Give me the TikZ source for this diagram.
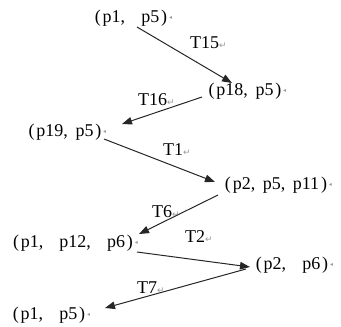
\documentclass[tikz,border=0pt]{standalone}
\usepackage{fontspec}
\setmainfont{Liberation Serif}
\newfontfamily\djv{DejaVu Sans}
\usetikzlibrary{arrows.meta,calc}
\newcommand\wc{,\hspace{0.9em}}
\newcommand\nc{,\hspace{0.42em}}
\newcommand\lp{(\hspace{0.1em}}
\newcommand\rp{\hspace{0.1em})}
\newcommand\pmk{{\color{black!40}\djv\fontsize{9}{9}\selectfont ↵}}
\begin{document}
\begin{tikzpicture}[x=1pt,y=-1pt,
  st/.style={inner sep=0pt, font=\fontsize{18}{20}\selectfont, label={[pm]right:{\djv ◂}}},
  pm/.style={inner sep=1.5pt, text=black!40, font=\fontsize{6}{6}\selectfont},
  tl/.style={inner sep=0pt, anchor=west, font=\fontsize{18}{20}\selectfont},
  arr/.style={draw=black!85, line width=1pt, -{Triangle[length=10pt,width=7.5pt]}}]
\useasboundingbox (0,0) rectangle (341,327);
\node[st] (n1) at (131,18) {\lp p1\wc p5\rp};
\node[st] (n2) at (245,91) {\lp p18\nc p5\rp};
\node[st] (n3) at (65,132) {\lp p19\nc p5\rp};
\node[st] (n4) at (276,185) {\lp p2\nc p5\nc p11\rp};
\node[st] (n5) at (73,243) {\lp p1\wc p12\wc p6\rp};
\node[st] (n6) at (292,265) {\lp p2\wc p6\rp};
\node[st] (n7) at (49,315) {\lp p1\wc p5\rp};
\node[tl] (t15) at (190,43) {T15\pmk};
\node[tl] (t16) at (138,100) {T16\pmk};
\node[tl] (t1) at (163,150) {T1\pmk};
\node[tl] (t6) at (152,212) {T6\pmk};
\node[tl] (t2) at (185,237) {T2\pmk};
\node[tl] (t7) at (137,288) {T7\pmk};
\draw[arr] ($(n1.center)+(6,9)$) -- ($(n2.center)+(-13,-8)$);
\draw[arr] ($(n2.center)+(-43,6)$) -- ($(n3.center)+(57,-8)$);
\draw[arr] ($(n3.center)+(39,7)$) -- ($(n4.center)+(-61,-3)$);
\draw[arr] ($(n4.center)+(-58,10)$) -- ($(n5.center)+(66,-9)$);
\draw[arr] ($(n5.center)+(64,9)$) -- ($(n6.center)+(-42,2)$);
\draw[arr] ($(n6.center)+(-46,4)$) -- ($(n7.center)+(56,-7)$);
\end{tikzpicture}
\end{document}
